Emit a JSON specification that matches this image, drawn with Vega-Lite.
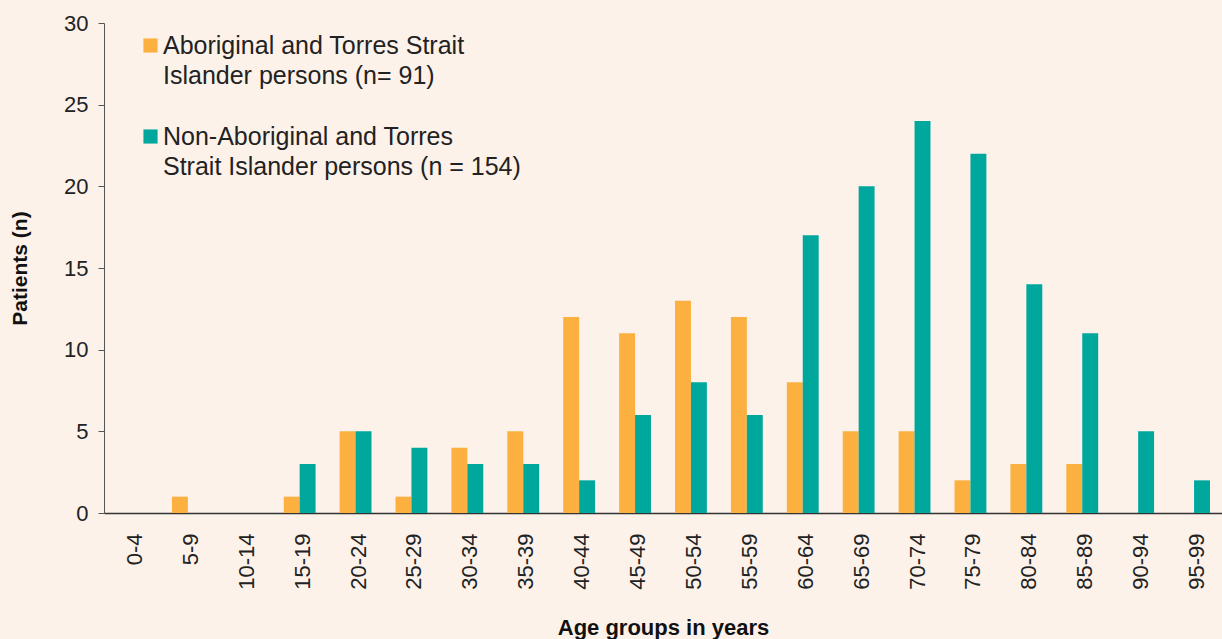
{
  "$schema": "https://vega.github.io/schema/vega-lite/v6.json",
  "width": 1118,
  "height": 490,
  "autosize": "none",
  "padding": {"left": 104, "top": 23, "right": 0, "bottom": 126},
  "background": "#fcf2ea",
  "config": {
    "view": {"stroke": null},
    "font": "Liberation Sans",
    "axis": {"labelFont": "Liberation Sans", "titleFont": "Liberation Sans"}
  },
  "data": {
    "values": [
      {"age": "0-4", "g": "A", "n": 0}, {"age": "0-4", "g": "N", "n": 0},
      {"age": "5-9", "g": "A", "n": 1}, {"age": "5-9", "g": "N", "n": 0},
      {"age": "10-14", "g": "A", "n": 0}, {"age": "10-14", "g": "N", "n": 0},
      {"age": "15-19", "g": "A", "n": 1}, {"age": "15-19", "g": "N", "n": 3},
      {"age": "20-24", "g": "A", "n": 5}, {"age": "20-24", "g": "N", "n": 5},
      {"age": "25-29", "g": "A", "n": 1}, {"age": "25-29", "g": "N", "n": 4},
      {"age": "30-34", "g": "A", "n": 4}, {"age": "30-34", "g": "N", "n": 3},
      {"age": "35-39", "g": "A", "n": 5}, {"age": "35-39", "g": "N", "n": 3},
      {"age": "40-44", "g": "A", "n": 12}, {"age": "40-44", "g": "N", "n": 2},
      {"age": "45-49", "g": "A", "n": 11}, {"age": "45-49", "g": "N", "n": 6},
      {"age": "50-54", "g": "A", "n": 13}, {"age": "50-54", "g": "N", "n": 8},
      {"age": "55-59", "g": "A", "n": 12}, {"age": "55-59", "g": "N", "n": 6},
      {"age": "60-64", "g": "A", "n": 8}, {"age": "60-64", "g": "N", "n": 17},
      {"age": "65-69", "g": "A", "n": 5}, {"age": "65-69", "g": "N", "n": 20},
      {"age": "70-74", "g": "A", "n": 5}, {"age": "70-74", "g": "N", "n": 24},
      {"age": "75-79", "g": "A", "n": 2}, {"age": "75-79", "g": "N", "n": 22},
      {"age": "80-84", "g": "A", "n": 3}, {"age": "80-84", "g": "N", "n": 14},
      {"age": "85-89", "g": "A", "n": 3}, {"age": "85-89", "g": "N", "n": 11},
      {"age": "90-94", "g": "A", "n": 0}, {"age": "90-94", "g": "N", "n": 5},
      {"age": "95-99", "g": "A", "n": 0}, {"age": "95-99", "g": "N", "n": 2}
    ]
  },
  "mark": {"type": "bar"},
  "encoding": {
    "x": {
      "field": "age", "type": "nominal", "sort": null,
      "scale": {"paddingInner": 0.43, "paddingOuter": 0.215},
      "axis": {
        "title": "Age groups in years",
        "titleFontSize": 22, "titleFontWeight": "bold", "titleColor": "#111",
        "titleY": 114, "titleBaseline": "middle",
        "labelAngle": -90, "labelFontSize": 22, "labelColor": "#222",
        "labelPadding": 20, "labelOffset": 3, "ticks": false,
        "domainColor": "#333", "domainWidth": 1.5
      }
    },
    "xOffset": {"field": "g", "type": "nominal", "scale": {"paddingInner": 0, "paddingOuter": 0}},
    "y": {
      "field": "n", "type": "quantitative",
      "scale": {"domain": [0, 30]},
      "axis": {
        "title": "Patients (n)",
        "titleFontSize": 21, "titleFontWeight": "bold", "titleColor": "#111",
        "titleX": -84, "titleY": 245, "titleAngle": -90, "titleAlign": "center", "titleBaseline": "middle",
        "values": [0, 5, 10, 15, 20, 25, 30],
        "grid": false, "labelFontSize": 22, "labelColor": "#222", "labelPadding": 10,
        "tickSize": 6, "tickColor": "#555", "domainColor": "#555"
      }
    },
    "color": {
      "field": "g", "type": "nominal",
      "scale": {"domain": ["A", "N"], "range": ["#fbb040", "#00a79d"]},
      "legend": {
        "title": null, "orient": "none", "legendX": 34, "legendY": 10,
        "symbolType": "square", "symbolSize": 200, "symbolStrokeWidth": 0, "symbolOpacity": 1,
        "labelFontSize": 25, "labelColor": "#222", "labelLimit": 500, "labelOffset": 0,
        "labelBaseline": "middle", "rowPadding": 35,
        "encode": {"labels": {"update": {"lineHeight": {"value": 30}}}},
        "labelExpr": "datum.label == 'A' ? ['Aboriginal and Torres Strait', 'Islander persons (n= 91)'] : ['Non-Aboriginal and Torres', 'Strait Islander persons (n = 154)']"
      }
    }
  }
}
